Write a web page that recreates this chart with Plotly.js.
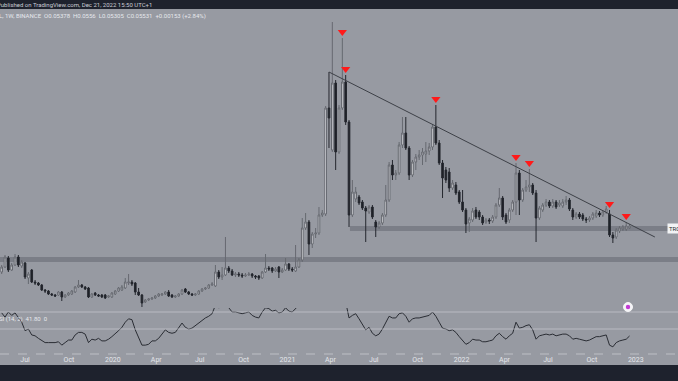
<!DOCTYPE html>
<html>
<head>
<meta charset="utf-8">
<script src="https://cdn.plot.ly/plotly-3.0.1.min.js"></script>
<style>
  html, body { margin: 0; padding: 0; background: #979aa2; }
  #chart { width: 678px; height: 381px; }
</style>
</head>
<body>
<div id="chart"></div>
<script>
// ---- Weekly candles (price in chart units), first bar week of 2019-05-13 ----
const firstWeek = '2019-05-13';
const open = [
  48,53,62,50,55,63,54,57,42,50,
  38,37,35,30,29,26,25,25,28,23,
  25,26,28,33,35,33,32,23,27,25,
  25,25,23,23,26,29,30,32,37,38,
  37,28,25,18,20,21,22,24,25,26,
  28,25,23,24,26,31,28,26,25,26,
  29,31,32,35,34,48,43,45,52,49,
  45,46,45,44,45,46,44,44,42,48,
  52,52,49,53,48,50,56,51,49,53,
  60,92,98,76,86,87,105,106,212,170,
  237,168,212,238,198,105,121,123,118,112,
  108,113,98,93,97,105,120,155,145,147,
  175,187,172,145,158,163,165,166,169,173,
  193,177,157,150,148,132,135,128,118,110,
  97,100,110,108,103,98,100,99,103,115,
  122,105,100,110,118,147,120,130,133,135,
  127,102,110,115,118,114,118,115,114,118,
  120,110,103,106,105,101,100,102,104,107,
  105,108,106,85,83,89,91,91,92
];
const high = [
  55,65,64,57,66,65,60,58,48,51,
  40,38,36,31,30,27,26,29,29,26,
  28,30,34,40,36,34,33,27,28,26,
  26,26,25,28,30,33,35,42,46,40,
  38,32,26,21,22,23,25,27,27,29,
  30,26,25,27,31,32,29,27,27,30,
  32,33,36,38,55,50,53,83,54,51,
  48,48,47,47,48,47,45,45,49,66,
  54,53,53,54,52,62,57,53,75,62,
  102,107,100,88,92,113,110,214,248,298,
  240,215,282,245,200,140,133,125,120,114,
  115,115,100,99,107,135,158,160,150,178,
  203,203,174,160,166,170,172,178,177,196,
  215,180,160,153,152,140,138,130,130,112,
  103,112,113,110,105,102,102,105,117,132,
  124,107,112,120,157,150,132,140,151,137,
  130,114,117,121,120,121,120,120,121,124,
  122,112,108,108,107,103,104,108,110,109,
  110,114,110,88,92,94,95,98,96
];
const low = [
  46,52,48,49,54,53,52,41,36,37,
  35,34,29,27,25,24,23,24,19,22,
  24,25,27,32,32,30,22,22,24,23,
  22,21,22,22,25,28,29,31,35,34,
  25,24,13,17,19,20,21,23,24,25,
  23,22,22,23,25,27,25,24,24,25,
  28,30,31,34,33,41,40,44,47,44,
  43,43,42,43,44,42,41,40,41,47,
  49,47,48,42,47,49,49,48,48,52,
  58,90,65,72,82,85,103,104,172,168,
  150,166,210,195,93,103,118,115,110,78,
  106,101,83,91,95,103,118,140,140,145,
  172,170,140,143,150,160,155,158,165,170,
  175,155,122,137,128,130,125,116,108,87,
  88,98,101,100,95,96,96,97,101,113,
  100,96,97,108,105,105,118,128,128,125,
  78,100,108,113,112,112,111,113,112,115,
  109,100,101,101,99,97,98,100,102,103,
  103,106,83,77,81,87,89,89,91
];
const close = [
  53,63,50,55,63,55,58,43,46,38,
  37,35,30,29,26,25,24,28,23,25,
  27,29,33,35,33,31,23,26,25,24,
  23,22,24,27,29,32,33,38,38,36,
  28,25,17,20,21,22,24,26,26,28,
  24,23,24,26,30,28,26,25,26,29,
  31,32,35,36,48,43,45,52,49,45,
  46,45,44,45,46,44,43,42,48,52,
  51,49,51,48,50,56,51,50,53,60,
  92,98,76,86,87,105,107,212,202,237,
  168,212,238,198,105,128,128,117,112,109,
  113,103,93,97,105,120,155,145,147,175,
  187,172,145,158,163,165,168,169,173,193,
  177,157,142,140,132,137,127,118,110,96,
  101,109,103,103,97,100,99,103,115,122,
  103,98,110,118,147,120,130,133,135,127,
  102,112,115,118,114,118,113,117,118,120,
  111,103,106,103,101,100,102,106,107,105,
  108,111,85,82,90,92,93,94,94
];
// RSI (14) per weekly bar
const rsi = [
  69,64,70,66,69,63,58,48,50,43,
  42,39,36,34,34,34,34,35,31,34,
  37,37,43,46,46,44,34,38,37,39,
  36,36,38,41,44,48,52,58,62,61,
  49,41,31,31,32,36,36,39,44,49,
  46,45,46,52,57,52,50,51,54,58,
  61,63,65,68,78,75,76,79,75,70,
  70,69,68,69,70,66,64,63,70,75,
  74,71,72,69,70,75,71,70,74,78,
  90,92,81,84,84,90,91,96,94,95,
  85,88,90,82,63,66,68,62,55,49,
  52,45,42,44,50,58,65,63,63,68,
  69,65,58,62,63,63,64,65,66,70,
  65,58,51,50,48,49,46,41,37,32,
  34,38,37,37,35,35,36,37,42,45,
  41,38,42,45,58,51,52,54,55,49,
  38,42,43,44,43,44,42,43,44,44,
  42,38,39,38,37,36,37,39,41,41,
  42,43,31,29,34,36,37,38,41.8
];
// Sell signals (bar indexes) and the descending trendline
const signalBars = [102,103,130,154,158,182,187];
const trendDates = ['2021-03-29','2023-02-10'];
const trendValues = [248,83];
// Horizontal zones (price range)
const zoneUpper = [89,94];
const zoneLower = [58,63];
const zoneUpperStart = '2021-05-12';
// Time axis ticks
const tickDates = ['2019-07-01','2019-10-01','2020-01-01','2020-04-01','2020-07-01','2020-10-01',
  '2021-01-01','2021-04-01','2021-07-01','2021-10-01','2022-01-01','2022-04-01','2022-07-01',
  '2022-10-01','2023-01-01','2023-04-01'];
const tickLabels = ['Jul','Oct','2020','Apr','Jul','Oct','2021','Apr','Jul','Oct','2022','Apr','Jul','Oct','2023','Apr'];

// ---- build ----
const t0 = Date.parse(firstWeek + 'T00:00:00Z');
const dates = open.map((_, i) => new Date(t0 + i * 7 * 86400000).toISOString().slice(0, 10));

const PH = 354; // plot height in px
const py = p => (PH - p) / PH;

const BG = '#979aa2';
const DARK = '#1e222d';

const candles = {
  type: 'candlestick', x: dates, open: open, high: high, low: low, close: close,
  xaxis: 'x', yaxis: 'y',
  increasing: { line: { color: '#666970', width: 1 }, fillcolor: '#e2e3e7' },
  decreasing: { line: { color: '#24272e', width: 1 }, fillcolor: '#1c1f26' },
  whiskerwidth: 0, hoverinfo: 'skip', showlegend: false
};
const trend = {
  type: 'scatter', mode: 'lines', x: trendDates, y: trendValues,
  line: { color: '#3d4047', width: 1 }, xaxis: 'x', yaxis: 'y', hoverinfo: 'skip', showlegend: false
};
const signals = {
  type: 'scatter', mode: 'markers',
  x: signalBars.map(i => dates[i]), y: signalBars.map(i => high[i] + 6),
  marker: { symbol: 'triangle-down', size: 8, color: '#ff1a1a', line: { width: 0 } },
  xaxis: 'x', yaxis: 'y', hoverinfo: 'skip', showlegend: false
};
const rsiLine = {
  type: 'scatter', mode: 'lines', x: dates, y: rsi,
  line: { color: '#2a2d34', width: 1 }, xaxis: 'x', yaxis: 'y2', hoverinfo: 'skip', showlegend: false
};

const shapes = [
  { type: 'rect', xref: 'paper', yref: 'y', x0: 0, x1: 1, y0: zoneLower[0], y1: zoneLower[1],
    fillcolor: 'rgba(105,108,116,0.6)', line: { width: 0 }, layer: 'below' },
  { type: 'rect', xref: 'x', yref: 'y', x0: zoneUpperStart, x1: '2023-06-01', y0: zoneUpper[0], y1: zoneUpper[1],
    fillcolor: 'rgba(105,108,116,0.6)', line: { width: 0 }, layer: 'below' },
  { type: 'line', xref: 'paper', yref: 'y2', x0: 0, x1: 1, y0: 70, y1: 70, line: { color: 'rgba(215,217,222,0.55)', width: 1 } },
  { type: 'line', xref: 'paper', yref: 'y2', x0: 0, x1: 1, y0: 50, y1: 50, line: { color: 'rgba(215,217,222,0.55)', width: 1 } },
  { type: 'line', xref: 'paper', yref: 'paper', x0: 0, x1: 1, y0: 0, y1: 0, line: { color: 'rgba(215,217,222,0.6)', width: 1, dash: 'dash' } },
  { type: 'rect', xref: 'paper', yref: 'paper', x0: -0.01, x1: 1.01, y0: py(9), y1: 1.02, fillcolor: DARK, line: { width: 0 }, layer: 'above' },
  { type: 'rect', xref: 'paper', yref: 'paper', x0: -0.01, x1: 1.01, y0: -0.2, y1: py(365), fillcolor: DARK, line: { width: 0 }, layer: 'above' },
  { type: 'circle', xref: 'paper', yref: 'paper', x0: 623.5/678, x1: 632.5/678, y0: py(311.5), y1: py(302.5),
    fillcolor: '#f4f4f6', line: { color: '#f4f4f6', width: 1 }, layer: 'above' },
  { type: 'circle', xref: 'paper', yref: 'paper', x0: 625.8/678, x1: 630.2/678, y0: py(309.2), y1: py(304.8),
    fillcolor: '#c23bd4', line: { width: 0 }, layer: 'above' }
];

const annFont = { family: 'Roboto, Arial, sans-serif', size: 6, color: '#c9ccd4' };
const annotations = [
  { xref: 'paper', yref: 'paper', x: -0.007, y: py(4.6), xanchor: 'left', yanchor: 'middle', showarrow: false,
    text: 'Published on TradingView.com, Dec 21, 2022 15:50 UTC+1', font: annFont },
  { xref: 'paper', yref: 'paper', x: -0.004, y: py(16), xanchor: 'left', yanchor: 'middle', showarrow: false,
    text: 'L, 1W, BINANCE  O0.05378  H0.0556  L0.05305  C0.05531  +0.00153 (+2.84%)',
    font: { family: 'Roboto, Arial, sans-serif', size: 6, color: '#e6e8ed' } },
  { xref: 'paper', yref: 'paper', x: -0.004, y: py(319), xanchor: 'left', yanchor: 'middle', showarrow: false,
    text: 'SI (14, 2)  41.80  0', font: { family: 'Roboto, Arial, sans-serif', size: 6, color: '#e6e8ed' } },
  { xref: 'paper', yref: 'y', x: 667/678, y: (zoneUpper[0] + zoneUpper[1]) / 2, xanchor: 'left', yanchor: 'middle', showarrow: false,
    text: 'TR0', bgcolor: '#f2f3f5', borderpad: 1, font: { family: 'Roboto, Arial, sans-serif', size: 6, color: '#2a2d34' } }
];

const layout = {
  width: 678, height: 381,
  margin: { l: 0, r: 0, t: 0, b: 27, pad: 0 },
  paper_bgcolor: BG, plot_bgcolor: BG,
  showlegend: false,
  xaxis: {
    type: 'date', range: ['2019-05-09 12:00', '2023-03-30 12:00'], anchor: 'y2',
    showgrid: false, zeroline: false, showline: false,
    rangeslider: { visible: false },
    tickmode: 'array', tickvals: tickDates, ticktext: tickLabels,
    ticks: '', tickfont: { family: 'Roboto, Arial, sans-serif', size: 7, color: '#e4e6eb' },
    fixedrange: true
  },
  yaxis: {
    domain: [py(308), 1], range: [12, 320], anchor: 'x',
    showgrid: false, zeroline: false, showticklabels: false, showline: false, fixedrange: true
  },
  yaxis2: {
    domain: [0, py(308)], range: [70 - (354 - 312) / 0.85, 70 + (312 - 308) / 0.85], anchor: 'x',
    showgrid: false, zeroline: false, showticklabels: false, showline: false, fixedrange: true
  },
  shapes: shapes,
  annotations: annotations
};

Plotly.newPlot('chart', [candles, trend, signals, rsiLine], layout, { displayModeBar: false, staticPlot: true });
</script>
</body>
</html>
